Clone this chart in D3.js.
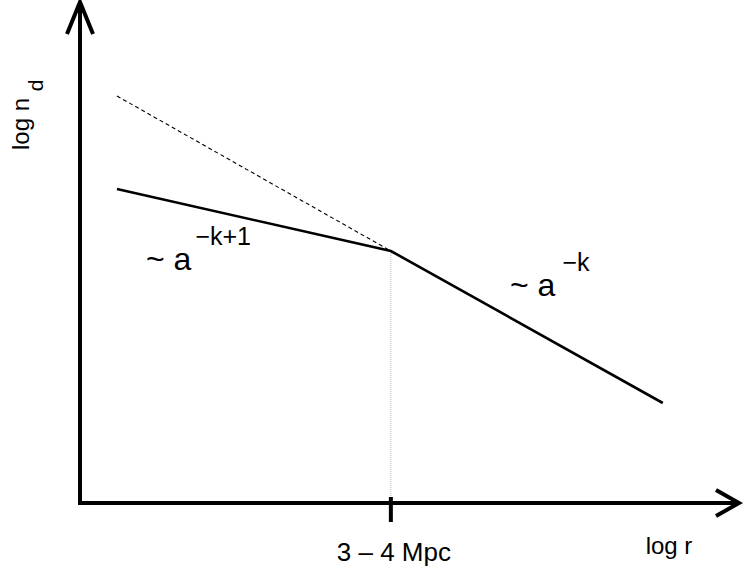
<!DOCTYPE html>
<html>
<head>
<meta charset="utf-8">
<script src="https://cdn.jsdelivr.net/npm/d3@7"></script>
<style>
  body { margin: 0; background: #fff; }
  text { font-family: "Liberation Sans", Arial, sans-serif; fill: #000; }
</style>
</head>
<body>
<div id="chart"></div>
<script>
// sketch values (log r, log n_d), arbitrary units
const solidLogR = [0.56, 4.71, 8.83];
const solidLogN = [6.28, 5.04, 2.0];
const dashLogR = [0.56, 4.71];
const dashLogN = [8.14, 5.04];
const breakLogR = 4.71;
const tickLabels = ['3 \u2013 4 Mpc'];

const width = 743, height = 571;

const x = d3.scaleLinear().domain([0, 10]).range([80, 740]);
const y = d3.scaleLinear().domain([0, 10]).range([503, 3]);

const svg = d3.select('#chart').append('svg')
  .attr('width', width)
  .attr('height', height);

// gray dotted drop line at the break
svg.append('line')
  .attr('x1', x(breakLogR)).attr('x2', x(breakLogR))
  .attr('y1', y(solidLogN[1])).attr('y2', y(0))
  .attr('stroke', '#bbb')
  .attr('stroke-width', 1)
  .attr('stroke-dasharray', '1,1');

// axes
const axisW = 4;
svg.append('line')
  .attr('x1', x(0)).attr('y1', y(0) + axisW / 2)
  .attr('x2', x(0)).attr('y2', 2)
  .attr('stroke', '#000').attr('stroke-width', axisW);
svg.append('line')
  .attr('x1', x(0) - axisW / 2).attr('y1', y(0))
  .attr('x2', 738).attr('y2', y(0))
  .attr('stroke', '#000').attr('stroke-width', axisW);

// arrowheads
svg.append('path')
  .attr('d', `M${x(0) - 13},${34} L${x(0)},${2} L${x(0) + 13},${34}`)
  .attr('fill', 'none').attr('stroke', '#000').attr('stroke-width', axisW);
svg.append('path')
  .attr('d', `M716,${y(0) - 13} L739,${y(0)} L716,${y(0) + 13}`)
  .attr('fill', 'none').attr('stroke', '#000').attr('stroke-width', axisW);

// tick at break
svg.append('line')
  .attr('x1', x(breakLogR)).attr('x2', x(breakLogR))
  .attr('y1', y(0) - 6).attr('y2', y(0) + 19)
  .attr('stroke', '#000').attr('stroke-width', 4);

svg.append('text')
  .attr('x', x(breakLogR) + 3).attr('y', 561)
  .attr('text-anchor', 'middle')
  .attr('font-size', 26)
  .text(tickLabels[0]);

// lines
const line = d3.line().x(d => x(d[0])).y(d => y(d[1]));

svg.append('path')
  .datum(dashLogR.map((r, i) => [r, dashLogN[i]]))
  .attr('d', line)
  .attr('fill', 'none')
  .attr('stroke', '#000')
  .attr('stroke-width', 1.1)
  .attr('stroke-dasharray', '4,3');

svg.append('path')
  .datum(solidLogR.map((r, i) => [r, solidLogN[i]]))
  .attr('d', line)
  .attr('fill', 'none')
  .attr('stroke', '#000')
  .attr('stroke-width', 2.6);

// axis titles
svg.append('text')
  .attr('x', 669).attr('y', 554)
  .attr('text-anchor', 'middle')
  .attr('font-size', 24)
  .text('log r');

const yt = svg.append('text')
  .attr('transform', 'translate(29,150) rotate(-90)')
  .attr('font-size', 24);
yt.append('tspan').text('log n ');
yt.append('tspan').attr('dy', 14).attr('font-size', 21).text('d');

// annotations
const a1 = svg.append('text').attr('x', 146).attr('y', 270).attr('font-size', 32);
a1.append('tspan').text('~ a');
a1.append('tspan').attr('dx', 4).attr('dy', -25).attr('font-size', 25).text('\u2212k+1');

const a2 = svg.append('text').attr('x', 510).attr('y', 296).attr('font-size', 32);
a2.append('tspan').text('~ a');
a2.append('tspan').attr('dx', 7).attr('dy', -25).attr('font-size', 25).text('\u2212k');
</script>
</body>
</html>
